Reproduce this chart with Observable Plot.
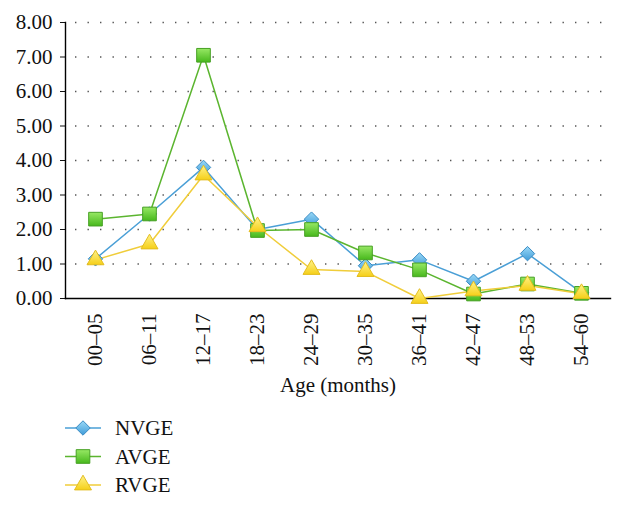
<!DOCTYPE html>
<html>
<head>
<meta charset="utf-8">
<script src="https://cdn.jsdelivr.net/npm/d3@7"></script>
<script src="https://cdn.jsdelivr.net/npm/@observablehq/plot@0.6"></script>
<style>
  html, body { margin: 0; padding: 0; background: #fff; }
  #chart svg { display: block; }
  #legend { display: block; }
</style>
</head>
<body>
<div id="chart"></div>
<svg id="legend" width="624" height="97"></svg>
<script>
const ages = ["00–05","06–11","12–17","18–23","24–29","30–35","36–41","42–47","48–53","54–60"];
const nvge = [1.15, 2.45, 3.80, 2.00, 2.30, 0.95, 1.12, 0.50, 1.30, 0.17];
const avge = [2.30, 2.45, 7.05, 1.97, 2.00, 1.32, 0.83, 0.13, 0.42, 0.15];
const rvge = [1.12, 1.58, 3.58, 2.08, 0.84, 0.78, 0.00, 0.22, 0.38, 0.14];
const yTicks = [0, 1, 2, 3, 4, 5, 6, 7, 8];

const seriesNames = ["NVGE", "AVGE", "RVGE"];
const seriesValues = [nvge, avge, rvge];
const styles = {
  NVGE: {line: "#4a9fd6", stroke: "#3a8cc4", fill: "url(#gNV)", symbol: "diamond2", r: 6.5},
  AVGE: {line: "#5bb52f", stroke: "#47a024", fill: "url(#gAV)", symbol: "square", r: 7.7},
  RVGE: {line: "#f0cd3a", stroke: "#e3bd20", fill: "url(#gRV)", symbol: "triangle", r: 6.3}
};

const data = seriesNames.map((s, i) => ages.map((a, j) => ({series: s, age: a, value: seriesValues[i][j]})));

const font = "'Liberation Serif', 'DejaVu Serif', serif";

const marks = [
  Plot.gridY(yTicks.filter(d => d > 0), {stroke: "#555", strokeOpacity: 1, strokeWidth: 1.4, strokeDasharray: "1.4,11.1", strokeDashoffset: 2.5}),
  Plot.axisY(yTicks, {tickFormat: d => d.toFixed(2), tickSize: 5, tickPadding: 8, fontSize: 21, color: "#111", label: null}),
  Plot.axisX({tickRotate: -90, tickSize: 0, tickPadding: 15, fontSize: 21, color: "#111", label: null}),
  Plot.frame({anchor: "left", stroke: "#000", strokeWidth: 1.4}),
  Plot.frame({anchor: "bottom", stroke: "#000", strokeWidth: 1.4}),
  Plot.text(["Age (months)"], {frameAnchor: "bottom", dy: 93, fontSize: 21, fill: "#111"})
];
data.forEach(d => {
  const st = styles[d[0].series];
  marks.push(Plot.line(d, {x: "age", y: "value", stroke: st.line, strokeWidth: 1.5}));
});
data.forEach(d => {
  const st = styles[d[0].series];
  marks.push(Plot.dot(d, {x: "age", y: "value", symbol: () => st.symbol, r: st.r, fill: st.fill, stroke: st.stroke, strokeWidth: 1}));
});

const chart = Plot.plot({
  width: 624,
  height: 410,
  marginLeft: 65,
  marginRight: 14,
  marginTop: 22,
  marginBottom: 112,
  style: {fontFamily: font, background: "#fff"},
  x: {type: "band", domain: ages, padding: 0, axis: null},
  y: {domain: [0, 8], axis: null},
  symbol: {domain: ["diamond2","square","triangle"], range: ["diamond2","square","triangle"]},
  marks
});

function addDefs(svg) {
  const defs = d3.select(svg).insert("defs", ":first-child");
  const grads = [
    ["gNV", "#9ad9f7", "#3f9bd8"],
    ["gAV", "#97e864", "#47b81c"],
    ["gRV", "#fff38a", "#f5cf18"]
  ];
  grads.forEach(([id, c1, c2]) => {
    const g = defs.append("linearGradient").attr("id", id).attr("x1", 0).attr("y1", 0).attr("x2", 0).attr("y2", 1);
    g.append("stop").attr("offset", "0%").attr("stop-color", c1);
    g.append("stop").attr("offset", "100%").attr("stop-color", c2);
  });
}
addDefs(chart);
document.getElementById("chart").appendChild(chart);

// Legend
const lg = d3.select("#legend");
const symMap = {diamond2: d3.symbolDiamond2, square: d3.symbolSquare, triangle: d3.symbolTriangle};
seriesNames.forEach((s, i) => {
  const st = styles[s];
  const y = 18 + i * 28.5;
  lg.append("line").attr("x1", 65).attr("x2", 101).attr("y1", y).attr("y2", y).attr("stroke", st.line).attr("stroke-width", 1.5);
  lg.append("path").attr("transform", `translate(83,${y})`)
    .attr("d", d3.symbol(symMap[st.symbol], Math.PI * st.r * st.r)())
    .attr("fill", st.fill.replace("#g", "#lg")).attr("stroke", st.stroke).attr("stroke-width", 1);
  lg.append("text").attr("x", 115).attr("y", y).attr("dy", "0.35em").attr("font-family", font).attr("font-size", 21).attr("fill", "#111").text(s);
});
const ldefs = lg.insert("defs", ":first-child");
[["lgNV", "#9ad9f7", "#3f9bd8"], ["lgAV", "#97e864", "#47b81c"], ["lgRV", "#fff38a", "#f5cf18"]].forEach(([id, c1, c2]) => {
  const g = ldefs.append("linearGradient").attr("id", id).attr("x1", 0).attr("y1", 0).attr("x2", 0).attr("y2", 1);
  g.append("stop").attr("offset", "0%").attr("stop-color", c1);
  g.append("stop").attr("offset", "100%").attr("stop-color", c2);
});
</script>
</body>
</html>
